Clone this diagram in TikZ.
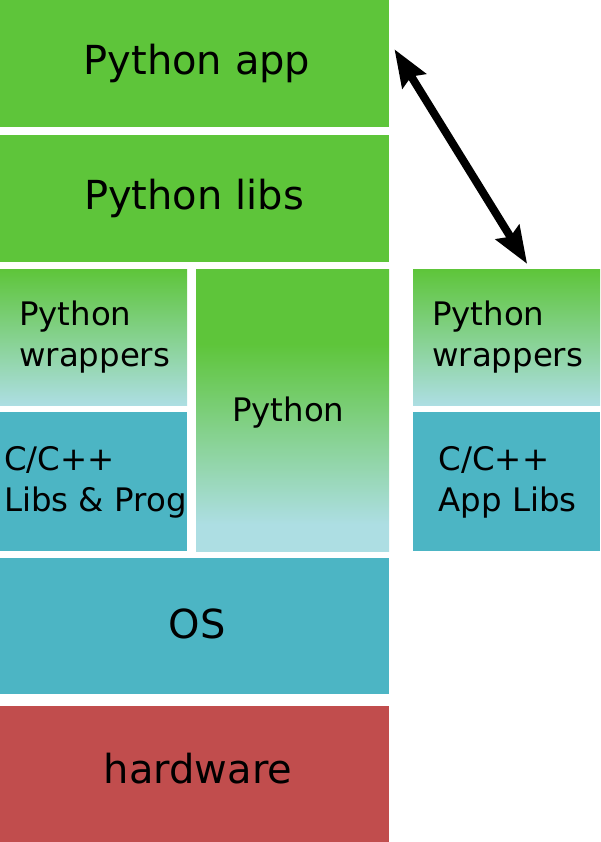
\documentclass[tikz,border=0pt]{standalone}
\usepackage{fontspec}
\setmainfont{DejaVu Sans}
\usepackage{tikz}
\usetikzlibrary{arrows.meta,calc,positioning}
\definecolor{pygreen}{RGB}{94,197,58}
\definecolor{pylight}{RGB}{173,222,227}
\definecolor{osteal}{RGB}{76,181,196}
\definecolor{hwred}{RGB}{193,77,77}
\pgfdeclareverticalshading{pyfade}{100bp}{color(0bp)=(pylight); color(29.8bp)=(pylight); color(61.8bp)=(pygreen); color(100bp)=(pygreen)}

\begin{document}
\begin{tikzpicture}[x=1pt,y=-1pt,
    blk/.style={anchor=north west, inner sep=0pt},
    big/.style={anchor=base, inner sep=0pt, font=\fontsize{40}{48}\selectfont},
    small/.style={anchor=base west, inner sep=0pt, font=\fontsize{32.4}{40.8}\selectfont, align=left},
    wrapfade/.style={top color=pygreen, bottom color=pylight}]
        \useasboundingbox (0,0) rectangle (600,842);
        % python side
        \node[blk, fill=pygreen, minimum width=389pt, minimum height=127pt] (app) at (0,0) {};
        \node[blk, fill=pygreen, minimum width=389pt, minimum height=127pt] (libs) at (0,135) {};
        \node[blk, wrapfade, minimum width=187pt, minimum height=136pt] (wrap) at (0,269) {};
        \node[blk, fill=osteal, minimum width=187pt, minimum height=139pt] (clib) at (0,412) {};
        \node[blk, shading=pyfade, minimum width=193pt, minimum height=282pt] (py) at (196,269) {};
        % system
        \node[blk, fill=osteal, minimum width=389pt, minimum height=136pt] (os) at (0,558) {};
        \node[blk, fill=hwred, minimum width=389pt, minimum height=136pt] (hw) at (0,706) {};
        % app side
        \node[blk, wrapfade, minimum width=187pt, minimum height=136pt] (rwrap) at (413,269) {};
        \node[blk, fill=osteal, minimum width=187pt, minimum height=139pt] (rclib) at (413,412) {};
        % labels (multi-line ones sit on their last baseline)
        \node[big] (apptxt) at (197,75) {Python app};
        \node[big] (libstxt) at (194,210) {Python libs};
        \node[small] (wraptxt) at (19,366) {Python\\wrappers};
        \node[small] (clibtxt) at (4,511.7) {C/C++\\Libs \& Prog};
        \node[small] (pytxt) at (232,421.7) {Python};
        \node[big] (ostxt) at (197,638) {OS};
        \node[big] (hwtxt) at (198,783) {hardware};
        \node[small] (rwraptxt) at (432,366.7) {Python\\wrappers};
        \node[small] (rclibtxt) at (438.5,511.7) {C/C++\\App Libs};
        \draw[line width=8pt, {Stealth[length=37pt,width=27pt,inset=5pt]}-{Stealth[length=37pt,width=27pt,inset=5pt]}]
          ([xshift=5pt,yshift=14.5pt]app.east) -- ([xshift=20.5pt,yshift=5pt]rwrap.north);
      \end{tikzpicture}
\end{document}
